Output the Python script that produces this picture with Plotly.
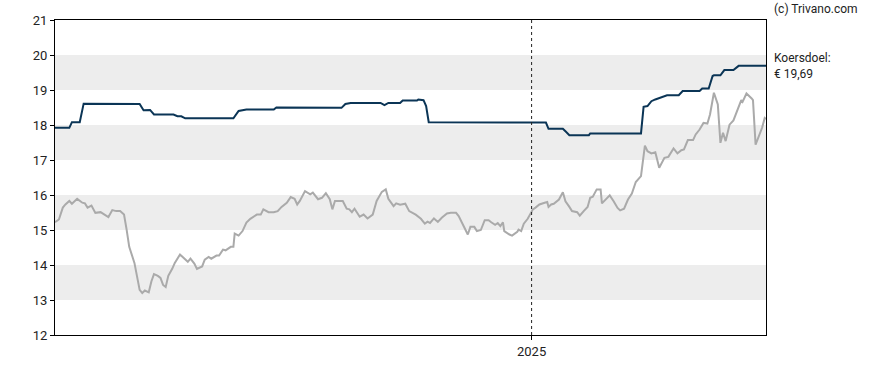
import pandas as pd
import plotly.graph_objects as go

START = "2024-01-01"

# Share price (koers): day offset from START, value
price_days = [0, 3, 6, 8, 11, 13, 17, 21, 23, 25, 28, 31, 35, 37, 41, 44, 47, 50, 53, 55, 57, 61, 63, 65,
              67, 69, 72, 74, 76, 79, 81, 83, 85, 87, 90, 92, 96, 98, 102, 104, 107, 109, 113, 115, 118, 120,
              124, 126, 129, 131, 135, 137, 138, 141, 144, 147, 150, 155, 158, 160, 164, 168, 171, 174, 178,
              181, 184, 186, 188, 192, 196, 198, 202, 205, 208, 211, 213, 215, 221, 224, 226, 228, 230, 234,
              237, 240, 244, 247, 251, 254, 256, 260, 262, 265, 269, 272, 277, 281, 284, 286, 288, 291, 294,
              297, 301, 304, 308, 310, 314, 317, 319, 322, 324, 327, 330, 333, 335, 338, 340, 342, 344, 345,
              349, 351, 355, 356, 358, 360, 363, 367, 369, 372, 376, 378, 379, 381, 383, 387, 390, 392, 395,
              397, 401, 403, 406, 409, 411, 413, 416, 419, 420, 423, 426, 429, 432, 434, 437, 440, 443, 446,
              448, 450, 453, 455, 458, 461, 464, 466, 468, 471, 475, 478, 481, 483, 486, 490, 492, 495, 498,
              501, 503, 506, 509, 511, 513, 515, 518, 521, 524, 527, 528, 531, 535, 536, 538, 540, 543, 545,
              546]
price_values = [15.22, 15.30, 15.64, 15.73, 15.83, 15.75, 15.89, 15.78, 15.76, 15.64, 15.70, 15.49, 15.51,
                15.47, 15.37, 15.57, 15.54, 15.54, 15.44, 15.01, 14.52, 14.06, 13.63, 13.29, 13.20, 13.27,
                13.22, 13.53, 13.74, 13.69, 13.63, 13.43, 13.37, 13.69, 13.89, 14.06, 14.30, 14.22, 14.09,
                14.18, 14.04, 13.89, 13.96, 14.15, 14.23, 14.18, 14.27, 14.27, 14.44, 14.42, 14.52, 14.52,
                14.90, 14.84, 14.97, 15.21, 15.32, 15.44, 15.44, 15.59, 15.51, 15.51, 15.54, 15.66, 15.78,
                15.94, 15.89, 15.73, 15.83, 16.11, 16.02, 16.07, 15.88, 15.92, 16.05, 15.88, 15.59, 15.83,
                15.83, 15.61, 15.59, 15.51, 15.61, 15.38, 15.44, 15.33, 15.44, 15.83, 16.09, 16.16, 15.89,
                15.68, 15.76, 15.72, 15.75, 15.54, 15.44, 15.32, 15.18, 15.24, 15.20, 15.33, 15.23, 15.35,
                15.47, 15.49, 15.49, 15.40, 15.11, 14.87, 15.09, 15.09, 14.97, 15.00, 15.28, 15.28, 15.22,
                15.15, 15.20, 15.11, 15.22, 14.97, 14.87, 14.84, 14.95, 15.01, 14.97, 15.18, 15.32, 15.59,
                15.64, 15.73, 15.78, 15.80, 15.66, 15.73, 15.75, 15.87, 16.08, 15.82, 15.66, 15.54, 15.51,
                15.41, 15.54, 15.66, 15.92, 15.95, 16.16, 16.16, 15.76, 15.89, 15.99, 15.82, 15.63, 15.56,
                15.61, 15.87, 16.04, 16.37, 16.46, 16.54, 17.41, 17.25, 17.19, 17.22, 16.78, 16.92, 17.06,
                17.09, 17.33, 17.19, 17.28, 17.30, 17.57, 17.57, 17.73, 17.87, 18.06, 18.04, 18.30, 18.92,
                18.59, 17.49, 17.78, 17.54, 18.01, 18.13, 18.40, 18.71, 18.66, 18.90, 18.76, 18.71, 17.44,
                17.63, 17.92, 18.20, 18.17]

# Analyst price target (koersdoel)
target_days = [0, 11, 13, 19, 22, 33, 35, 65, 68, 73, 76, 91, 94, 97, 100, 137, 141, 147, 168, 170, 220,
               223, 227, 250, 253, 256, 265, 267, 278, 279, 283, 285, 287, 377, 379, 390, 392, 395, 410, 411,
               450, 452, 455, 458, 461, 465, 469, 470, 479, 482, 495, 497, 502, 505, 506, 511, 514, 521, 525,
               546]
target_values = [17.92, 17.92, 18.08, 18.08, 18.61, 18.61, 18.60, 18.60, 18.42, 18.43, 18.30, 18.30, 18.25,
                 18.25, 18.19, 18.19, 18.40, 18.44, 18.44, 18.50, 18.49, 18.60, 18.63, 18.63, 18.57, 18.63,
                 18.63, 18.70, 18.70, 18.73, 18.71, 18.54, 18.08, 18.07, 17.89, 17.89, 17.82, 17.71, 17.71,
                 17.76, 17.76, 18.52, 18.54, 18.68, 18.73, 18.78, 18.82, 18.85, 18.85, 18.97, 18.97, 19.04,
                 19.04, 19.40, 19.42, 19.42, 19.57, 19.57, 19.69, 19.69]

y_ticks = [12, 13, 14, 15, 16, 17, 18, 19, 20, 21]
band_ranges = [(13, 14), (15, 16), (17, 18), (19, 20)]
x_tick = "2025-01-01"
x_tick_label = "2025"
target_label = "Koersdoel:<br>€ 19,69"
copyright_text = "(c) Trivano.com"

start = pd.Timestamp(START)
price_dates = [start + pd.Timedelta(days=d) for d in price_days]
target_dates = [start + pd.Timedelta(days=d) for d in target_days]

FONT = "Roboto, Arial, sans-serif"

fig = go.Figure()
fig.add_trace(go.Scatter(x=price_dates, y=price_values, mode="lines",
                         line=dict(color="#aaaaaa", width=2), hoverinfo="skip", showlegend=False))
fig.add_trace(go.Scatter(x=target_dates, y=target_values, mode="lines",
                         line=dict(color="#0b3556", width=2), hoverinfo="skip", showlegend=False))

shapes = []
for lo, hi in band_ranges:
    shapes.append(dict(type="rect", xref="paper", yref="y", x0=0, x1=1, y0=lo, y1=hi,
                       fillcolor="#ededed", line=dict(width=0), layer="below"))
shapes.append(dict(type="line", xref="x", yref="paper", x0=x_tick, x1=x_tick, y0=0, y1=1,
                   line=dict(color="#222222", width=1, dash="dot"), layer="above"))

fig.update_layout(
    width=888, height=370,
    margin=dict(l=55, r=122, t=20, b=35),
    paper_bgcolor="white", plot_bgcolor="white",
    font=dict(family=FONT, size=13, color="#222222"),
    shapes=shapes,
    showlegend=False,
    annotations=[
        dict(text=copyright_text, xref="paper", yref="paper", x=1, y=1, xanchor="left", yanchor="bottom",
             xshift=6, yshift=2, showarrow=False, font=dict(size=12, color="#222222"), align="left"),
        dict(text=target_label, xref="paper", yref="y", x=1, y=target_values[-1], xanchor="left",
             yanchor="middle", xshift=6, yshift=0, showarrow=False, font=dict(size=12, color="#222222"),
             align="left"),
    ],
)
fig.update_xaxes(
    range=[price_dates[0], price_dates[-1]],
    tickmode="array", tickvals=[x_tick], ticktext=[x_tick_label],
    showgrid=False, zeroline=False,
    showline=True, linecolor="#000000", linewidth=1, mirror=True,
    ticks="outside", ticklen=4, tickcolor="#000000",
    tickfont=dict(size=13, color="#222222"),
)
fig.update_yaxes(
    range=[12, 21], tickmode="array", tickvals=y_ticks,
    showgrid=False, zeroline=False,
    showline=True, linecolor="#000000", linewidth=1, mirror=True,
    ticks="outside", ticklen=4, tickcolor="#000000",
    tickfont=dict(size=13, color="#222222"),
)

fig.write_html("out.html", config={"displayModeBar": False},
               post_script="document.body.style.margin='0';")
